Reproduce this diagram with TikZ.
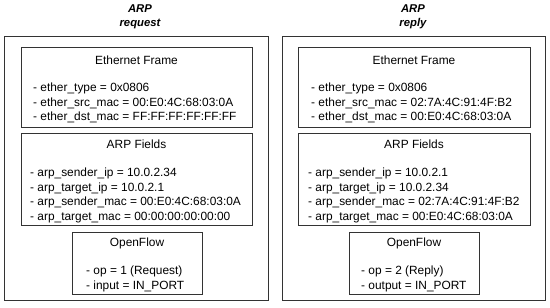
\documentclass[tikz,border=0pt]{standalone}
\usepackage{fontspec}
\setmainfont{Liberation Sans}
\begin{document}
\begin{tikzpicture}[x=1pt,y=-1pt,
  box/.style={draw=black!80, line width=0.8pt, rectangle, inner sep=0pt},
  ttl/.style={font=\fontsize{11.9}{12}\selectfont, inner sep=0pt},
  body/.style={font=\fontsize{11.9}{14.4}\selectfont, align=left, anchor=north west, inner sep=0pt},
  head/.style={font=\bfseries\itshape\fontsize{11.3}{13.5}\selectfont, align=center, inner sep=0pt}]
\useasboundingbox (0,0) rectangle (550,308);
% left
\node[head] (hl) at (140,17) {ARP\\request};
\node[box, minimum width=264, minimum height=264] (ol) at (136,168) {};
\node[box, minimum width=231, minimum height=80] (el) at (136.5,87) {};
\node[box, minimum width=231, minimum height=92] (al) at (136.5,179) {};
\node[box, minimum width=130, minimum height=62] (fl) at (137,263) {};
\node[ttl] (elt) at (136.5,60) {Ethernet Frame};
\node[body] (elb) at (33,83) {- ether\_type = 0x0806\\- ether\_src\_mac = 00:E0:4C:68:03:0A\\- ether\_dst\_mac = FF:FF:FF:FF:FF:FF};
\node[ttl] (alt) at (136.5,144) {ARP Fields};
\node[body] (alb) at (30,168) {- arp\_sender\_ip = 10.0.2.34\\- arp\_target\_ip = 10.0.2.1\\- arp\_sender\_mac = 00:E0:4C:68:03:0A\\- arp\_target\_mac = 00:00:00:00:00:00};
\node[ttl] (flt) at (137,243) {OpenFlow};
\node[body] (flb) at (86,266) {- op = 1 (Request)\\- input = IN\_PORT};
% right
\node[head] (hr) at (413,17) {ARP\\reply};
\node[box, minimum width=263, minimum height=264] (or) at (413.5,168) {};
\node[box, minimum width=232, minimum height=80] (er) at (414,87) {};
\node[box, minimum width=232, minimum height=92] (ar) at (414,179) {};
\node[box, minimum width=130, minimum height=62] (fr) at (414,263) {};
\node[ttl] (ert) at (414,60) {Ethernet Frame};
\node[body] (erb) at (311,83) {- ether\_type = 0x0806\\- ether\_src\_mac = 02:7A:4C:91:4F:B2\\- ether\_dst\_mac = 00:E0:4C:68:03:0A};
\node[ttl] (art) at (414,144) {ARP Fields};
\node[body] (arb) at (308,168) {- arp\_sender\_ip = 10.0.2.1\\- arp\_target\_ip = 10.0.2.34\\- arp\_sender\_mac = 02:7A:4C:91:4F:B2\\- arp\_target\_mac = 00:E0:4C:68:03:0A};
\node[ttl] (frt) at (414,243) {OpenFlow};
\node[body] (frb) at (361,266) {- op = 2 (Reply)\\- output = IN\_PORT};
\end{tikzpicture}
\end{document}
